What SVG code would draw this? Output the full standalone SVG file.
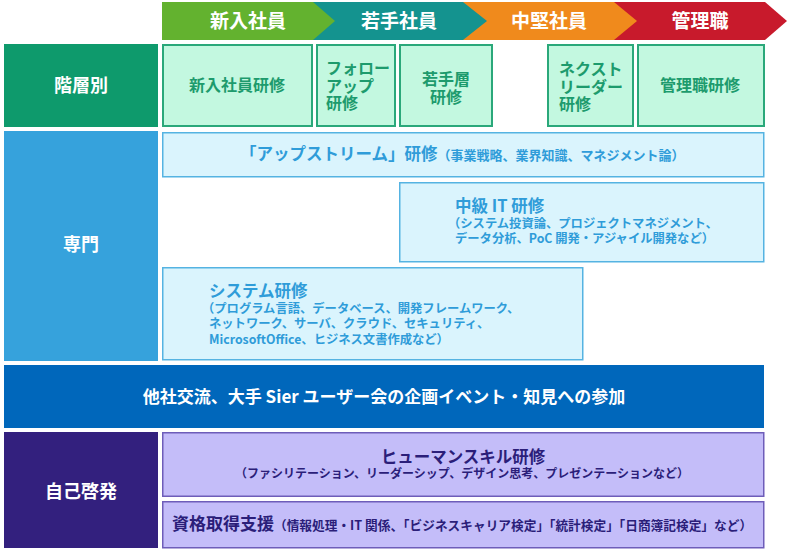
<svg xmlns="http://www.w3.org/2000/svg" width="790" height="550" viewBox="0 0 790 550">
<style>
text{font-family:"Noto Sans CJK JP","Noto Sans",sans-serif;font-weight:700}
.hdr{fill:#ffffff;font-size:19px;text-anchor:middle}
.cat{fill:#ffffff;font-size:18px;text-anchor:middle}
.g{fill:#c3f8e0;stroke:#2aa87a;stroke-width:2}
.gt{fill:#1d9b6d;font-size:16px}
.b{fill:#daf4fd;stroke:#55b3e2;stroke-width:1.5}
.bt{fill:#2f9cd9;font-size:16.5px}
.bs{fill:#2f9cd9;font-size:12.3px}
.p{fill:#c4bdf9;stroke:#6e5db9;stroke-width:1.5}
.pt{fill:#2b1e79;font-size:16.5px}
.ps{fill:#2b1e79;font-size:12px}
.mid{text-anchor:middle}
</style>
<rect width="790" height="550" fill="#ffffff"/>
<g id="stages">
<polygon points="614,2 765,2 787,21 765,40 614,40" fill="#c81a2c"/>
<polygon points="463,2 614,2 637,21 614,40 463,40" fill="#f08a1c"/>
<polygon points="313,2 463,2 487,21 463,40 313,40" fill="#14938f"/>
<polygon points="162,2 313,2 335,21 313,40 162,40" fill="#63b22f"/>
<text class="hdr" x="248" y="28">新入社員</text>
<text class="hdr" x="399" y="28">若手社員</text>
<text class="hdr" x="549" y="28">中堅社員</text>
<text class="hdr" x="700" y="28">管理職</text>
</g>
<g id="cat-kaiso">
<rect x="4" y="44" width="154" height="83" fill="#0e9a6c"/>
<text class="cat" x="81" y="92">階層別</text>
</g>
<g id="node-shinnyu">
<rect class="g" x="163" y="45" width="149" height="81"/>
<text class="gt mid" x="237" y="91">新入社員研修</text>
</g>
<g id="node-follow">
<rect class="g" x="317" y="45" width="78" height="81"/>
<text class="gt" x="326" y="74">フォロー</text>
<text class="gt" x="326" y="91.5">アップ</text>
<text class="gt" x="326" y="109">研修</text>
</g>
<g id="node-wakate">
<rect class="g" x="400" y="45" width="92" height="81"/>
<text class="gt mid" x="446" y="85">若手層</text>
<text class="gt mid" x="446" y="103">研修</text>
</g>
<g id="node-next">
<rect class="g" x="548" y="45" width="85" height="81"/>
<text class="gt" x="559" y="75">ネクスト</text>
<text class="gt" x="559" y="92.5">リーダー</text>
<text class="gt" x="559" y="110">研修</text>
</g>
<g id="node-kanri">
<rect class="g" x="638" y="45" width="126" height="81"/>
<text class="gt mid" x="700" y="91">管理職研修</text>
</g>
<g id="cat-senmon">
<rect x="4" y="131" width="154" height="230" fill="#36a2dc"/>
<text class="cat" x="81" y="251">専門</text>
</g>
<g id="node-upstream">
<rect class="b" x="162.75" y="132.75" width="601" height="44"/>
<text x="240" y="160"><tspan class="bt">「アップストリーム」研修</tspan><tspan class="bs" style="font-size:13px">（事業戦略、業界知識、マネジメント論）</tspan></text>
</g>
<g id="node-chukyu">
<rect class="b" x="399.75" y="182.75" width="364" height="79"/>
<text class="bt" x="455" y="212">中級 IT 研修</text>
<text class="bs" x="448" y="227.5">（システム投資論、プロジェクトマネジメント、</text>
<text class="bs" x="455" y="243">データ分析、PoC 開発・アジャイル開発など）</text>
</g>
<g id="node-system">
<rect class="b" x="162.75" y="267.75" width="420" height="92"/>
<text class="bt" x="209" y="297">システム研修</text>
<text class="bs" x="202" y="312.5">（プログラム言語、データベース、開発フレームワーク、</text>
<text class="bs" x="209" y="328">ネットワーク、サーバ、クラウド、セキュリティ、</text>
<text class="bs" x="209" y="343.5">MicrosoftOffice、ヒジネス文書作成など）</text>
</g>
<g id="node-koryu">
<rect x="4" y="365" width="760" height="63" fill="#0067bb"/>
<text class="cat" style="font-size:17px" x="384" y="403">他社交流、大手 Sier ユーザー会の企画イベント・知見への参加</text>
</g>
<g id="cat-jiko">
<rect x="4" y="432" width="154" height="116" fill="#33207e"/>
<text class="cat" x="81" y="498">自己啓発</text>
</g>
<g id="node-human">
<rect class="p" x="162.75" y="432.75" width="601" height="63.5"/>
<text class="pt mid" x="463" y="463">ヒューマンスキル研修</text>
<text class="ps mid" x="462" y="477.5">（ファシリテーション、リーダーシップ、デザイン思考、プレゼンテーションなど）</text>
</g>
<g id="node-shikaku">
<rect class="p" x="162.75" y="501.75" width="601" height="46"/>
<text x="172" y="530"><tspan class="pt" style="font-size:17px">資格取得支援</tspan><tspan class="ps" style="font-size:12.7px">（情報処理・IT 関係、「ビジネスキャリア検定」「統計検定」「日商簿記検定」など）</tspan></text>
</g>
<g id="connectors"></g>
</svg>
